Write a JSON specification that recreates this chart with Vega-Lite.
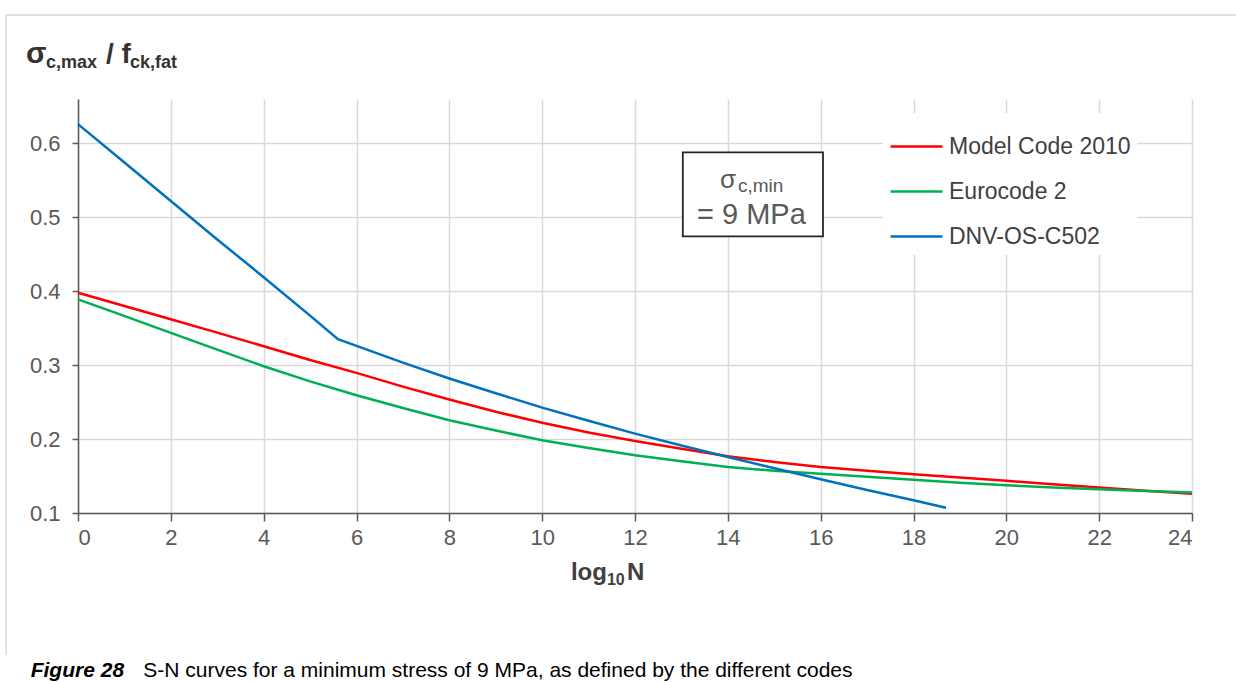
{
  "$schema": "https://vega.github.io/schema/vega-lite/v6.json",
  "width": 1114,
  "height": 414,
  "autosize": {"type": "none"},
  "padding": {"left": 78, "top": 99, "right": 44, "bottom": 169},
  "background": "white",
  "config": {
    "font": "Liberation Sans",
    "view": {"stroke": null},
    "axis": {
      "grid": true, "gridColor": "#d9d9d9", "gridWidth": 1.5,
      "domainColor": "#595959", "domainWidth": 1.5,
      "tickColor": "#595959", "tickWidth": 1.5,
      "labelColor": "#595959", "labelFontSize": 22, "labelFont": "Liberation Sans"
    },
    "axisX": {"tickSize": 8, "labelPadding": 6},
    "axisY": {"tickSize": 6, "labelPadding": 12}
  },
  "datasets": {
    "curves": [
      {"code": "Model Code 2010", "logN": 0, "ratio": 0.398},
      {"code": "Model Code 2010", "logN": 1, "ratio": 0.380},
      {"code": "Model Code 2010", "logN": 2, "ratio": 0.362},
      {"code": "Model Code 2010", "logN": 3, "ratio": 0.344},
      {"code": "Model Code 2010", "logN": 4, "ratio": 0.3256},
      {"code": "Model Code 2010", "logN": 5, "ratio": 0.307},
      {"code": "Model Code 2010", "logN": 6, "ratio": 0.2895},
      {"code": "Model Code 2010", "logN": 7, "ratio": 0.271},
      {"code": "Model Code 2010", "logN": 8, "ratio": 0.2535},
      {"code": "Model Code 2010", "logN": 9, "ratio": 0.237},
      {"code": "Model Code 2010", "logN": 10, "ratio": 0.222},
      {"code": "Model Code 2010", "logN": 11, "ratio": 0.209},
      {"code": "Model Code 2010", "logN": 12, "ratio": 0.1974},
      {"code": "Model Code 2010", "logN": 13, "ratio": 0.187},
      {"code": "Model Code 2010", "logN": 14, "ratio": 0.1767},
      {"code": "Model Code 2010", "logN": 15, "ratio": 0.169},
      {"code": "Model Code 2010", "logN": 16, "ratio": 0.1622},
      {"code": "Model Code 2010", "logN": 17, "ratio": 0.157},
      {"code": "Model Code 2010", "logN": 18, "ratio": 0.1524},
      {"code": "Model Code 2010", "logN": 19, "ratio": 0.148},
      {"code": "Model Code 2010", "logN": 20, "ratio": 0.1435},
      {"code": "Model Code 2010", "logN": 21, "ratio": 0.139},
      {"code": "Model Code 2010", "logN": 22, "ratio": 0.1345},
      {"code": "Model Code 2010", "logN": 23, "ratio": 0.130},
      {"code": "Model Code 2010", "logN": 24, "ratio": 0.126},
      {"code": "Eurocode 2", "logN": 0, "ratio": 0.389},
      {"code": "Eurocode 2", "logN": 0.8, "ratio": 0.371},
      {"code": "Eurocode 2", "logN": 2, "ratio": 0.3436},
      {"code": "Eurocode 2", "logN": 3, "ratio": 0.321},
      {"code": "Eurocode 2", "logN": 4, "ratio": 0.2985},
      {"code": "Eurocode 2", "logN": 5, "ratio": 0.278},
      {"code": "Eurocode 2", "logN": 6, "ratio": 0.2593},
      {"code": "Eurocode 2", "logN": 7, "ratio": 0.242},
      {"code": "Eurocode 2", "logN": 8, "ratio": 0.2254},
      {"code": "Eurocode 2", "logN": 9, "ratio": 0.2115},
      {"code": "Eurocode 2", "logN": 10, "ratio": 0.1984},
      {"code": "Eurocode 2", "logN": 11, "ratio": 0.188},
      {"code": "Eurocode 2", "logN": 12, "ratio": 0.178},
      {"code": "Eurocode 2", "logN": 13, "ratio": 0.170},
      {"code": "Eurocode 2", "logN": 14, "ratio": 0.1622},
      {"code": "Eurocode 2", "logN": 15, "ratio": 0.157},
      {"code": "Eurocode 2", "logN": 16, "ratio": 0.153},
      {"code": "Eurocode 2", "logN": 17, "ratio": 0.149},
      {"code": "Eurocode 2", "logN": 18, "ratio": 0.145},
      {"code": "Eurocode 2", "logN": 19, "ratio": 0.141},
      {"code": "Eurocode 2", "logN": 20, "ratio": 0.1375},
      {"code": "Eurocode 2", "logN": 21, "ratio": 0.1345},
      {"code": "Eurocode 2", "logN": 22, "ratio": 0.132},
      {"code": "Eurocode 2", "logN": 23, "ratio": 0.1297},
      {"code": "Eurocode 2", "logN": 24, "ratio": 0.1276},
      {"code": "DNV-OS-C502", "logN": 0, "ratio": 0.626},
      {"code": "DNV-OS-C502", "logN": 1, "ratio": 0.574},
      {"code": "DNV-OS-C502", "logN": 2, "ratio": 0.522},
      {"code": "DNV-OS-C502", "logN": 3, "ratio": 0.470},
      {"code": "DNV-OS-C502", "logN": 4, "ratio": 0.419},
      {"code": "DNV-OS-C502", "logN": 5, "ratio": 0.367},
      {"code": "DNV-OS-C502", "logN": 5.6, "ratio": 0.335},
      {"code": "DNV-OS-C502", "logN": 6, "ratio": 0.326},
      {"code": "DNV-OS-C502", "logN": 7, "ratio": 0.3035},
      {"code": "DNV-OS-C502", "logN": 8, "ratio": 0.282},
      {"code": "DNV-OS-C502", "logN": 9, "ratio": 0.262},
      {"code": "DNV-OS-C502", "logN": 10, "ratio": 0.2426},
      {"code": "DNV-OS-C502", "logN": 11, "ratio": 0.2248},
      {"code": "DNV-OS-C502", "logN": 12, "ratio": 0.2074},
      {"code": "DNV-OS-C502", "logN": 13, "ratio": 0.1913},
      {"code": "DNV-OS-C502", "logN": 14, "ratio": 0.1758},
      {"code": "DNV-OS-C502", "logN": 15, "ratio": 0.1605},
      {"code": "DNV-OS-C502", "logN": 16, "ratio": 0.1456},
      {"code": "DNV-OS-C502", "logN": 17, "ratio": 0.1312},
      {"code": "DNV-OS-C502", "logN": 18, "ratio": 0.1172},
      {"code": "DNV-OS-C502", "logN": 18.7, "ratio": 0.107}
    ]
  },
  "layer": [
    {
      "data": {"values": [{}]},
      "mark": {"type": "rule", "color": "#d9d9d9", "strokeWidth": 1.5},
      "encoding": {
        "x": {"datum": -1.551, "type": "quantitative", "scale": {"domain": [0, 24], "nice": false, "zero": false}, "axis": {"title": null, "values": [0,2,4,6,8,10,12,14,16,18,20,22,24]}},
        "x2": {"datum": 24.95},
        "y": {"datum": 0.7736, "type": "quantitative", "scale": {"domain": [0.1, 0.66], "nice": false, "zero": false}, "axis": {"title": null, "values": [0.1,0.2,0.3,0.4,0.5,0.6], "format": ".1f"}}
      }
    },
    {
      "data": {"values": [{}]},
      "mark": {"type": "rule", "color": "#d9d9d9", "strokeWidth": 1.5},
      "encoding": {
        "x": {"datum": -1.551, "type": "quantitative", "scale": {"domain": [0, 24], "nice": false, "zero": false}, "axis": {"title": null, "values": [0,2,4,6,8,10,12,14,16,18,20,22,24]}},
        "y": {"datum": 0.7736, "type": "quantitative", "scale": {"domain": [0.1, 0.66], "nice": false, "zero": false}, "axis": {"title": null, "values": [0.1,0.2,0.3,0.4,0.5,0.6], "format": ".1f"}},
        "y2": {"datum": -0.0921}
      }
    },
    {
      "data": {"name": "curves"},
      "mark": {"type": "line", "strokeWidth": 2.5, "clip": false},
      "encoding": {
        "x": {"field": "logN", "type": "quantitative", "scale": {"domain": [0, 24], "nice": false, "zero": false}, "axis": {"title": null, "values": [0,2,4,6,8,10,12,14,16,18,20,22,24]}},
        "y": {"field": "ratio", "type": "quantitative", "scale": {"domain": [0.1, 0.66], "nice": false, "zero": false}, "axis": {"title": null, "values": [0.1,0.2,0.3,0.4,0.5,0.6], "format": ".1f"}},
        "color": {
          "field": "code", "type": "nominal",
          "scale": {"domain": ["Model Code 2010", "Eurocode 2", "DNV-OS-C502"], "range": ["#ff0000", "#00b050", "#0070c0"]},
          "legend": {
            "title": null, "orient": "none", "legendX": 805, "legendY": 14,
            "symbolType": "stroke", "symbolSize": 2704, "symbolStrokeWidth": 2.5,
            "labelFontSize": 23, "labelColor": "#404040", "labelFont": "Liberation Sans",
            "labelOffset": 5, "labelLimit": 400, "fillColor": "white", "padding": 6, "rowPadding": 5
          }
        }
      }
    },
    {
      "data": {"values": [{}]},
      "mark": {"type": "rect", "fill": "white", "stroke": "#262626", "strokeWidth": 1.8},
      "encoding": {
        "x": {"datum": 13.03, "type": "quantitative", "scale": {"domain": [0, 24], "nice": false, "zero": false}},
        "x2": {"datum": 16.05},
        "y": {"datum": 0.5879, "type": "quantitative", "scale": {"domain": [0.1, 0.66], "nice": false, "zero": false}},
        "y2": {"datum": 0.4743}
      }
    },
    {
      "data": {"values": [{}]},
      "mark": {"type": "text", "text": "σ", "fontSize": 26, "color": "#595959", "align": "left", "baseline": "alphabetic"},
      "encoding": {
        "x": {"datum": 13.831, "type": "quantitative", "scale": {"domain": [0, 24], "nice": false, "zero": false}},
        "y": {"datum": 0.5396, "type": "quantitative", "scale": {"domain": [0.1, 0.66], "nice": false, "zero": false}}
      }
    },
    {
      "data": {"values": [{}]},
      "mark": {"type": "text", "text": "c,min", "fontSize": 19, "color": "#595959", "align": "left", "baseline": "alphabetic", "dx": 18, "dy": 4},
      "encoding": {
        "x": {"datum": 13.831, "type": "quantitative", "scale": {"domain": [0, 24], "nice": false, "zero": false}},
        "y": {"datum": 0.5396, "type": "quantitative", "scale": {"domain": [0.1, 0.66], "nice": false, "zero": false}}
      }
    },
    {
      "data": {"values": [{}]},
      "mark": {"type": "text", "text": "= 9 MPa", "fontSize": 29, "color": "#595959", "align": "left", "baseline": "alphabetic"},
      "encoding": {
        "x": {"datum": 13.335, "type": "quantitative", "scale": {"domain": [0, 24], "nice": false, "zero": false}},
        "y": {"datum": 0.4909, "type": "quantitative", "scale": {"domain": [0.1, 0.66], "nice": false, "zero": false}}
      }
    },
    {
      "data": {"values": [{}]},
      "mark": {"type": "text", "text": "σ", "fontSize": 30, "fontWeight": "bold", "color": "#333333", "align": "left", "baseline": "alphabetic"},
      "encoding": {
        "x": {"datum": -1.12, "type": "quantitative", "scale": {"domain": [0, 24], "nice": false, "zero": false}},
        "y": {"datum": 0.7087, "type": "quantitative", "scale": {"domain": [0.1, 0.66], "nice": false, "zero": false}}
      }
    },
    {
      "data": {"values": [{}]},
      "mark": {"type": "text", "text": "c,max", "fontSize": 18, "fontWeight": "bold", "color": "#333333", "align": "left", "baseline": "alphabetic", "dx": 20, "dy": 5},
      "encoding": {
        "x": {"datum": -1.12, "type": "quantitative", "scale": {"domain": [0, 24], "nice": false, "zero": false}},
        "y": {"datum": 0.7087, "type": "quantitative", "scale": {"domain": [0.1, 0.66], "nice": false, "zero": false}}
      }
    },
    {
      "data": {"values": [{}]},
      "mark": {"type": "text", "text": "/ f", "fontSize": 28, "fontWeight": "bold", "color": "#333333", "align": "left", "baseline": "alphabetic", "dx": 80},
      "encoding": {
        "x": {"datum": -1.12, "type": "quantitative", "scale": {"domain": [0, 24], "nice": false, "zero": false}},
        "y": {"datum": 0.7087, "type": "quantitative", "scale": {"domain": [0.1, 0.66], "nice": false, "zero": false}}
      }
    },
    {
      "data": {"values": [{}]},
      "mark": {"type": "text", "text": "ck,fat", "fontSize": 18, "fontWeight": "bold", "color": "#333333", "align": "left", "baseline": "alphabetic", "dx": 104, "dy": 5},
      "encoding": {
        "x": {"datum": -1.12, "type": "quantitative", "scale": {"domain": [0, 24], "nice": false, "zero": false}},
        "y": {"datum": 0.7087, "type": "quantitative", "scale": {"domain": [0.1, 0.66], "nice": false, "zero": false}}
      }
    },
    {
      "data": {"values": [{}]},
      "mark": {"type": "text", "text": "log", "fontSize": 24, "fontWeight": "bold", "color": "#404040", "align": "left", "baseline": "alphabetic"},
      "encoding": {
        "x": {"datum": 10.62, "type": "quantitative", "scale": {"domain": [0, 24], "nice": false, "zero": false}},
        "y": {"datum": 0.0094, "type": "quantitative", "scale": {"domain": [0.1, 0.66], "nice": false, "zero": false}}
      }
    },
    {
      "data": {"values": [{}]},
      "mark": {"type": "text", "text": "10", "fontSize": 16, "fontWeight": "bold", "color": "#404040", "align": "left", "baseline": "alphabetic", "dx": 36, "dy": 5},
      "encoding": {
        "x": {"datum": 10.62, "type": "quantitative", "scale": {"domain": [0, 24], "nice": false, "zero": false}},
        "y": {"datum": 0.0094, "type": "quantitative", "scale": {"domain": [0.1, 0.66], "nice": false, "zero": false}}
      }
    },
    {
      "data": {"values": [{}]},
      "mark": {"type": "text", "text": "N", "fontSize": 24, "fontWeight": "bold", "color": "#404040", "align": "left", "baseline": "alphabetic", "dx": 56},
      "encoding": {
        "x": {"datum": 10.62, "type": "quantitative", "scale": {"domain": [0, 24], "nice": false, "zero": false}},
        "y": {"datum": 0.0094, "type": "quantitative", "scale": {"domain": [0.1, 0.66], "nice": false, "zero": false}}
      }
    },
    {
      "data": {"values": [{}]},
      "mark": {"type": "text", "text": "Figure 28", "fontSize": 21, "fontWeight": "bold", "fontStyle": "italic", "color": "#000000", "align": "left", "baseline": "alphabetic"},
      "encoding": {
        "x": {"datum": -1.019, "type": "quantitative", "scale": {"domain": [0, 24], "nice": false, "zero": false}},
        "y": {"datum": -0.1218, "type": "quantitative", "scale": {"domain": [0.1, 0.66], "nice": false, "zero": false}}
      }
    },
    {
      "data": {"values": [{}]},
      "mark": {"type": "text", "text": "S-N curves for a minimum stress of 9 MPa, as defined by the different codes", "fontSize": 21, "color": "#000000", "align": "left", "baseline": "alphabetic", "dx": 112.6},
      "encoding": {
        "x": {"datum": -1.019, "type": "quantitative", "scale": {"domain": [0, 24], "nice": false, "zero": false}},
        "y": {"datum": -0.1218, "type": "quantitative", "scale": {"domain": [0.1, 0.66], "nice": false, "zero": false}}
      }
    }
  ]
}
